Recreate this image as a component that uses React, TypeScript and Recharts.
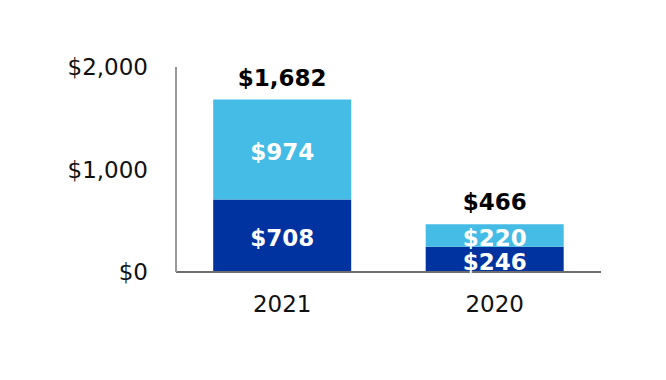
import { BarChart, Bar, XAxis, YAxis, LabelList } from 'recharts';

const years = ['2021', '2020'];
const lower = [708, 246];
const upper = [974, 220];
const totals = [1682, 466];
const yTicks = [0, 1000, 2000];

const data = years.map((y, i) => ({
  year: y,
  lower: lower[i],
  upper: upper[i],
  total: totals[i],
}));

const money = (v: number) => `$${v.toLocaleString('en-US')}`;
const font = 'DejaVu Sans, sans-serif';
const inside = { fill: '#fff', fontSize: 23, fontWeight: 'bold', fontFamily: font };

export default function App() {
  return (
    <div style={{ position: 'absolute', left: 0, top: 0, background: '#fff' }}>
      <BarChart
        width={666}
        height={380}
        data={data}
        margin={{ top: 67, right: 65, left: 76, bottom: 68 }}
        barCategoryGap="17.5%"
      >
        <XAxis
          dataKey="year"
          axisLine={{ stroke: '#6e6e6e', strokeWidth: 2 }}
          tickLine={false}
          tickMargin={18}
          height={40}
          tick={{ fontSize: 23, fill: '#111', fontFamily: font }}
        />
        <YAxis
          width={100}
          domain={[0, 2000]}
          ticks={yTicks}
          interval={0}
          tickFormatter={money}
          axisLine={{ stroke: '#999', strokeWidth: 2 }}
          tickLine={false}
          tickMargin={22}
          tick={{ fontSize: 23, fill: '#111', fontFamily: font }}
        />
        <Bar dataKey="lower" stackId="a" fill="#0033a0" isAnimationActive={false}>
          <LabelList dataKey="lower" position="center" formatter={money} dy={2} style={inside} />
        </Bar>
        <Bar dataKey="upper" stackId="a" fill="#45bce5" isAnimationActive={false}>
          <LabelList dataKey="upper" position="center" formatter={money} dy={2} style={inside} />
          <LabelList
            dataKey="total"
            position="top"
            offset={14}
            formatter={money}
            style={{ fill: '#000', fontSize: 23, fontWeight: 'bold', fontFamily: font }}
          />
        </Bar>
      </BarChart>
    </div>
  );
}
